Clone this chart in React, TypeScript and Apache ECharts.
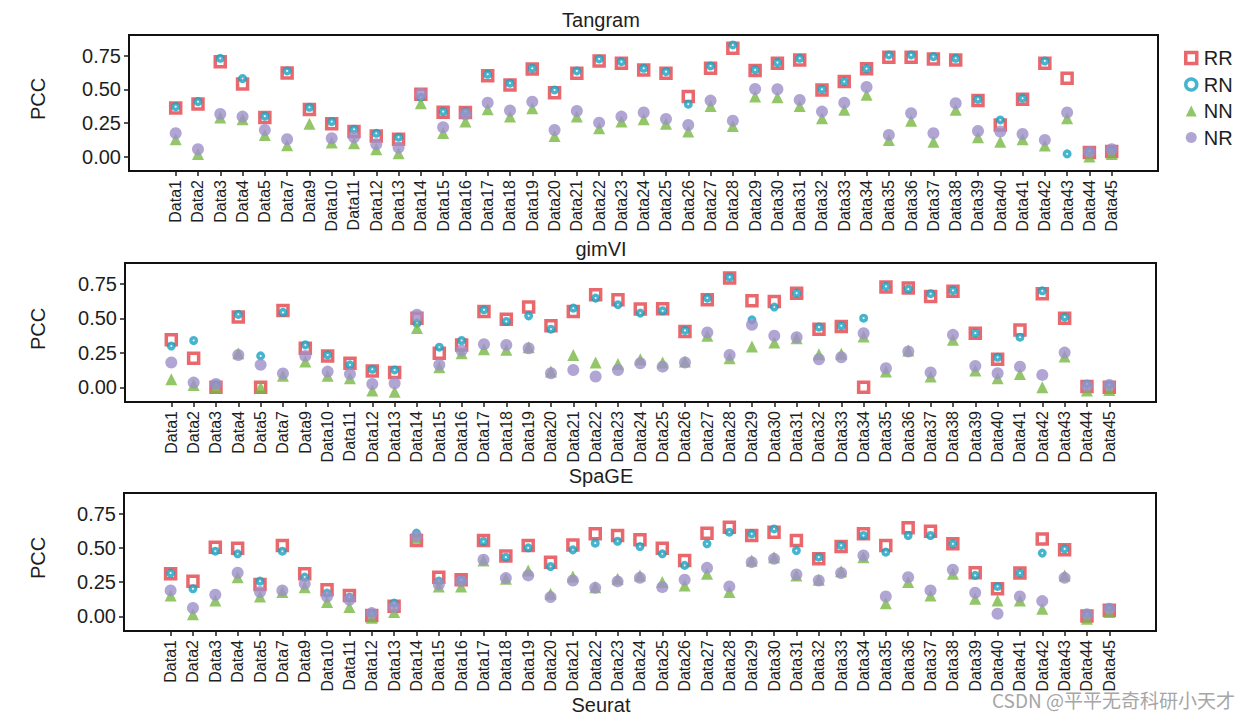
import React, { useEffect, useRef } from "react";
import * as echarts from "echarts";

const categories = [
  "Data1", "Data2", "Data3", "Data4", "Data5", "Data7", "Data9", "Data10", "Data11", "Data12",
  "Data13", "Data14", "Data15", "Data16", "Data17", "Data18", "Data19", "Data20", "Data21", "Data22",
  "Data23", "Data24", "Data25", "Data26", "Data27", "Data28", "Data29", "Data30", "Data31", "Data32",
  "Data33", "Data34", "Data35", "Data36", "Data37", "Data38", "Data39", "Data40", "Data41", "Data42",
  "Data43", "Data44", "Data45",
];

const seriesNames = ["RR", "RN", "NN", "NR"];
const panelTitles = ["Tangram", "gimVI", "SpaGE"];
const yTicks = [0, 0.25, 0.5, 0.75];

const tangramRR = [0.36, 0.39, 0.705, 0.54, 0.29, 0.62, 0.35, 0.243, 0.186, 0.153, 0.129, 0.463, 0.33, 0.327, 0.6, 0.532, 0.651, 0.475, 0.619, 0.71, 0.693, 0.644, 0.619, 0.446, 0.656, 0.804, 0.639, 0.693, 0.718, 0.495, 0.557, 0.653, 0.738, 0.738, 0.725, 0.718, 0.416, 0.235, 0.426, 0.693, 0.582, 0.03, 0.037];
const tangramRN = [0.371, 0.408, 0.73, 0.58, 0.3, 0.636, 0.366, 0.26, 0.203, 0.173, 0.144, 0.44, 0.334, 0.334, 0.611, 0.545, 0.656, 0.495, 0.636, 0.725, 0.705, 0.656, 0.631, 0.389, 0.673, 0.829, 0.644, 0.698, 0.73, 0.5, 0.557, 0.653, 0.755, 0.755, 0.743, 0.73, 0.426, 0.272, 0.433, 0.71, 0.02, 0.04, 0.045];
const tangramNN = [0.129, 0.02, 0.29, 0.277, 0.16, 0.085, 0.243, 0.104, 0.099, 0.054, 0.025, 0.396, 0.176, 0.26, 0.351, 0.297, 0.359, 0.153, 0.297, 0.21, 0.26, 0.277, 0.243, 0.186, 0.376, 0.228, 0.446, 0.44, 0.376, 0.285, 0.347, 0.46, 0.124, 0.267, 0.111, 0.347, 0.144, 0.111, 0.129, 0.082, 0.285, 0.0, 0.02];
const tangramNR = [0.173, 0.054, 0.317, 0.297, 0.198, 0.129, null, 0.136, 0.144, 0.092, 0.067, 0.465, 0.218, 0.314, 0.4, 0.342, 0.408, 0.198, 0.339, 0.252, 0.297, 0.327, 0.28, 0.235, 0.416, 0.267, 0.502, 0.5, 0.421, 0.334, 0.4, 0.517, 0.161, 0.322, 0.173, 0.396, 0.19, 0.186, 0.168, 0.124, 0.327, 0.035, 0.054];

const gimviRR = [0.345, 0.211, 0.0, 0.51, 0.0, 0.558, 0.284, 0.228, 0.175, 0.119, 0.107, 0.502, 0.248, 0.308, 0.551, 0.495, 0.583, 0.447, 0.551, 0.672, 0.636, 0.568, 0.57, 0.405, 0.636, 0.794, 0.629, 0.624, 0.684, 0.422, 0.442, 0.0, 0.728, 0.721, 0.66, 0.697, 0.393, 0.204, 0.417, 0.68, 0.502, 0.005, 0.0];
const gimviRN = [0.3, 0.34, 0.02, 0.53, 0.228, 0.544, 0.308, 0.235, 0.163, 0.131, 0.126, 0.466, 0.291, 0.34, 0.563, 0.478, 0.519, 0.422, 0.575, 0.648, 0.6, 0.539, 0.556, 0.413, 0.648, 0.8, 0.49, 0.583, 0.684, 0.437, 0.447, 0.502, 0.733, 0.714, 0.68, 0.704, 0.393, 0.218, 0.364, 0.701, 0.51, 0.024, 0.017];
const gimviNN = [0.058, 0.017, 0.0, 0.248, 0.0, 0.083, 0.187, 0.083, 0.066, -0.024, -0.032, 0.43, 0.146, 0.248, 0.277, 0.272, 0.291, 0.114, 0.235, 0.18, 0.17, 0.204, 0.18, 0.187, 0.374, 0.211, 0.296, 0.325, 0.357, 0.24, 0.243, 0.369, 0.114, 0.267, 0.078, 0.345, 0.121, 0.066, 0.097, 0.0, 0.223, -0.024, -0.02];
const gimviNR = [0.18, 0.034, 0.024, 0.235, 0.163, 0.1, 0.228, 0.114, 0.097, 0.024, 0.029, 0.527, 0.163, 0.267, 0.313, 0.308, 0.284, 0.102, 0.126, 0.078, 0.126, 0.175, 0.15, 0.18, 0.398, 0.235, 0.454, 0.374, 0.364, 0.204, 0.218, 0.393, 0.138, 0.26, 0.107, 0.381, 0.155, 0.102, 0.15, 0.09, 0.252, 0.01, 0.017];

const spageRR = [0.312, 0.258, 0.506, 0.499, 0.234, 0.519, 0.312, 0.195, 0.153, 0.007, 0.075, 0.555, 0.287, 0.268, 0.555, 0.441, 0.519, 0.397, 0.523, 0.604, 0.592, 0.56, 0.499, 0.409, 0.609, 0.653, 0.592, 0.616, 0.555, 0.421, 0.511, 0.604, 0.519, 0.648, 0.623, 0.531, 0.319, 0.202, 0.317, 0.567, 0.487, 0.002, 0.044];
const spageRN = [0.317, 0.202, 0.477, 0.458, 0.258, 0.477, 0.287, 0.17, 0.141, 0.02, 0.097, 0.609, 0.258, 0.268, 0.548, 0.433, 0.502, 0.365, 0.487, 0.536, 0.55, 0.511, 0.458, 0.373, 0.531, 0.616, 0.604, 0.64, 0.482, 0.433, 0.519, 0.592, 0.47, 0.592, 0.592, 0.531, 0.3, 0.219, 0.317, 0.463, 0.494, 0.015, 0.063];
const spageNN = [0.153, 0.015, 0.117, 0.287, 0.146, 0.178, 0.214, 0.105, 0.068, -0.01, 0.032, 0.575, 0.219, 0.219, 0.409, 0.275, 0.336, 0.166, 0.292, 0.214, 0.275, 0.3, 0.251, 0.226, 0.312, 0.178, 0.409, 0.433, 0.3, 0.268, 0.331, 0.433, 0.097, 0.251, 0.153, 0.312, 0.129, 0.117, 0.117, 0.056, 0.3, -0.017, 0.032];
const spageNR = [0.19, 0.061, 0.158, 0.319, 0.178, 0.19, 0.239, 0.146, 0.122, 0.024, 0.068, 0.584, 0.234, 0.258, 0.414, 0.28, 0.3, 0.141, 0.263, 0.209, 0.256, 0.282, 0.214, 0.268, 0.355, 0.219, 0.397, 0.421, 0.307, 0.263, 0.317, 0.446, 0.146, 0.287, 0.19, 0.341, 0.173, 0.019, 0.146, 0.112, 0.282, 0.015, 0.056];

const panelData = [
  [tangramRR, tangramRN, tangramNN, tangramNR],
  [gimviRR, gimviRN, gimviNN, gimviNR],
  [spageRR, spageRN, spageNN, spageNR],
];

const FONT = "'Liberation Sans', Arial, sans-serif";
const INK = "#1e1e1e";

const markerStyles: any[] = [
  { symbol: "rect", symbolSize: 10, itemStyle: { color: "#ffffff", borderColor: "#E2424A", borderWidth: 3.5 } },
  { symbol: "circle", symbolSize: 5.5, itemStyle: { color: "#ffffff", borderColor: "#17A3C2", borderWidth: 3.5 } },
  { symbol: "triangle", symbolSize: 12, itemStyle: { color: "#78B843" } },
  { symbol: "circle", symbolSize: 12, itemStyle: { color: "#9D90C8" } },
];

const legendIcons: any[] = [
  { icon: "rect", itemStyle: { color: "#ffffff", borderColor: "#E2424A", borderWidth: 3.5 } },
  { icon: "circle", itemStyle: { color: "#ffffff", borderColor: "#17A3C2", borderWidth: 3.5 } },
  { icon: "triangle", itemStyle: { color: "#78B843", borderWidth: 0 } },
  { icon: "circle", itemStyle: { color: "#9D90C8", borderWidth: 0 } },
];

// layout of each panel: frame box and data (category) span
const panelLayout = [
  { frameLeft: 129, frameWidth: 1029, top: 35, height: 136, dataLeft: 175.7, dataWidth: 936, titleY: 20, pccY: 99 },
  { frameLeft: 125, frameWidth: 1031, top: 263, height: 139, dataLeft: 171.3, dataWidth: 938, titleY: 249, pccY: 329 },
  { frameLeft: 124, frameWidth: 1032, top: 493, height: 138, dataLeft: 170.6, dataWidth: 938.7, titleY: 476, pccY: 558 },
];

const Y_MIN = -0.107;
const Y_MAX = 0.903;

export default function App() {
  const ref = useRef<HTMLDivElement>(null);

  useEffect(() => {
    document.body.style.margin = "0";
    const chart = echarts.init(ref.current!, null, { renderer: "svg" });

    const grid: any[] = [];
    const xAxis: any[] = [];
    const yAxis: any[] = [];
    const series: any[] = [];
    const graphic: any[] = [];

    panelLayout.forEach((L, p) => {
      grid.push({
        left: L.frameLeft, top: L.top, width: L.frameWidth, height: L.height,
        show: true, borderColor: "#111", borderWidth: 2, backgroundColor: "transparent",
      });
      grid.push({ left: L.dataLeft, top: L.top, width: L.dataWidth, height: L.height, show: false });

      xAxis.push({ gridIndex: 2 * p, type: "value", min: 0, max: 1, show: false });
      xAxis.push({
        gridIndex: 2 * p + 1, type: "category", data: categories, boundaryGap: false, position: "bottom",
        axisLine: { show: false, onZero: false },
        axisTick: { show: true, length: 5, lineStyle: { color: INK, width: 1.5 }, interval: 0 },
        axisLabel: { interval: 0, rotate: 90, fontSize: 16, color: INK, fontFamily: FONT, margin: 9 },
        splitLine: { show: false },
      });

      yAxis.push({
        gridIndex: 2 * p, type: "value", min: Y_MIN, max: Y_MAX,
        axisLine: { show: false, onZero: false },
        axisTick: { show: true, length: 5, customValues: yTicks, lineStyle: { color: INK, width: 1.5 } },
        axisLabel: {
          customValues: yTicks, fontSize: 20, color: INK, fontFamily: FONT, margin: 8,
          formatter: (v: number) => v.toFixed(2),
        },
        splitLine: { show: false },
      });
      yAxis.push({ gridIndex: 2 * p + 1, type: "value", min: Y_MIN, max: Y_MAX, show: false, splitLine: { show: false } });

      seriesNames.forEach((name, s) => {
        series.push({
          type: "scatter",
          name,
          xAxisIndex: 2 * p + 1,
          yAxisIndex: 2 * p + 1,
          data: panelData[p][s],
          symbol: markerStyles[s].symbol,
          symbolSize: markerStyles[s].symbolSize,
          itemStyle: markerStyles[s].itemStyle,
          z: 2 + s,
          silent: true,
        });
      });

      graphic.push({
        type: "text", x: 601, y: L.titleY,
        style: { text: panelTitles[p], fontSize: 20, fontFamily: FONT, fill: INK, align: "center", verticalAlign: "middle" },
      });
      graphic.push({
        type: "text", x: 38, y: L.pccY, rotation: Math.PI / 2,
        style: { text: "PCC", fontSize: 20, fontFamily: FONT, fill: INK, align: "center", verticalAlign: "middle" },
      });
    });

    graphic.push({
      type: "text", x: 601, y: 705,
      style: { text: "Seurat", fontSize: 20, fontFamily: FONT, fill: INK, align: "center", verticalAlign: "middle" },
    });
    graphic.push({
      type: "text", x: 992, y: 699,
      style: {
        text: "CSDN @平平无奇科研小天才", fontSize: 19,
        fontFamily: "'Noto Sans CJK SC', 'Liberation Sans', sans-serif",
        fill: "#a6a6a6", align: "left", verticalAlign: "middle",
      },
    });

    chart.setOption({
      animation: false,
      backgroundColor: "#ffffff",
      grid,
      xAxis,
      yAxis,
      series,
      graphic,
      legend: {
        data: seriesNames.map((name, i) => ({ name, icon: legendIcons[i].icon, itemStyle: legendIcons[i].itemStyle })),
        orient: "vertical",
        left: 1179,
        top: 43,
        itemWidth: 11,
        itemHeight: 11,
        itemGap: 6.5,
        selectedMode: false,
        textStyle: { fontSize: 20, color: INK, fontFamily: FONT, lineHeight: 20, padding: [0, 0, 0, 2] },
      },
    });

    return () => chart.dispose();
  }, []);

  return <div ref={ref} style={{ position: "fixed", left: 0, top: 0, width: 1258, height: 718 }} />;
}
